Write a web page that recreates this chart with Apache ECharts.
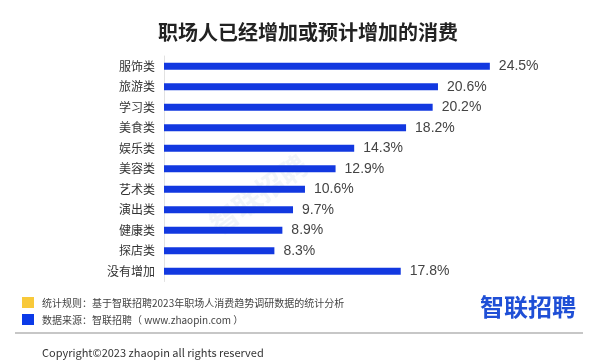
<!DOCTYPE html>
<html><head><meta charset="utf-8">
<script src="https://cdn.jsdelivr.net/npm/echarts@6/dist/echarts.min.js"></script>
<style>html,body{margin:0;padding:0;background:#fff}#c{width:600px;height:362px}</style>
</head><body><div id="c"></div>
<script>
var categories = ['服饰类','旅游类','学习类','美食类','娱乐类','美容类','艺术类','演出类','健康类','探店类','没有增加'];
var values = [24.5,20.6,20.2,18.2,14.3,12.9,10.6,9.7,8.9,8.3,17.8];
var titleText = '职场人已经增加或预计增加的消费';
var noteRule = '统计规则：基于智联招聘2023年职场人消费趋势调研数据的统计分析';
var noteSource = '数据来源：智联招聘（ www.zhaopin.com ）';
var copyright = 'Copyright©2023 zhaopin all rights reserved';
var font = '"Noto Sans CJK SC","Noto Sans",sans-serif';
var numFont = '"Liberation Sans","Noto Sans CJK SC",sans-serif';
var chart = echarts.init(document.getElementById('c'));
chart.setOption({
  animation:false,
  backgroundColor:'#fff',
  title:{text:titleText,left:303,top:17,textAlign:'center',textStyle:{fontSize:20,fontWeight:'bold',color:'#222',fontFamily:font}},
  grid:{left:164,top:56,width:399,height:225.5,containLabel:false},
  xAxis:{type:'value',min:0,max:30,show:false},
  yAxis:{type:'category',data:categories,inverse:true,
    axisLine:{show:true,lineStyle:{color:'#e2e2e2',width:1}},
    axisTick:{show:false},
    axisLabel:{fontSize:12,color:'#333',margin:9,fontFamily:font}},
  series:[{type:'bar',data:values,barWidth:7,itemStyle:{color:'#1238e0'},
    label:{show:true,position:'right',distance:9,fontSize:14,color:'#444',fontFamily:numFont,formatter:function(p){return p.value.toFixed(1)+'%';}}}],
  graphic:[
    {type:'text',left:205,top:150,rotation:Math.PI/5,style:{text:'智联招聘',fontSize:28,fill:'rgba(150,170,200,0.12)',fontFamily:font,fontWeight:'bold'}},
    {type:'rect',shape:{x:22,y:297,width:12,height:11},style:{fill:'#f8c93a'}},
    {type:'rect',shape:{x:22,y:314,width:12,height:11},style:{fill:'#0b3ae8'}},
    {type:'text',x:42,y:303,style:{text:noteRule,fontSize:10,fill:'#444',fontFamily:font,verticalAlign:'middle'}},
    {type:'text',x:42,y:320,style:{text:noteSource,fontSize:10,fill:'#444',fontFamily:font,verticalAlign:'middle'}},
    {type:'text',x:528,y:307,style:{text:'智联招聘',fontSize:24,fontWeight:'bold',fill:'#1f4fd6',fontFamily:font,align:'center',verticalAlign:'middle'}},
    {type:'line',shape:{x1:15,y1:333,x2:583,y2:333},style:{stroke:'#b5b5b5',lineWidth:1.5}},
    {type:'text',x:42,y:353,style:{text:copyright,fontSize:11,fill:'#333',fontFamily:font,verticalAlign:'middle'}}
  ]
});
</script></body></html>
